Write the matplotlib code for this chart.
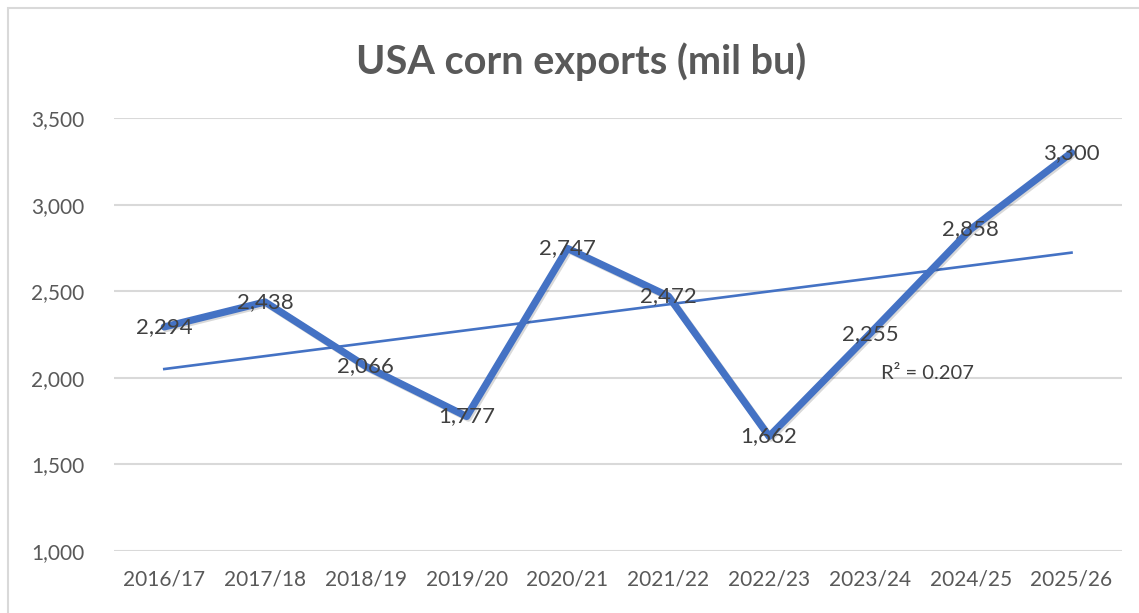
import matplotlib.pyplot as plt
import matplotlib.patheffects as pe
import numpy as np

# data
seasons = ['2016/17', '2017/18', '2018/19', '2019/20', '2020/21',
           '2021/22', '2022/23', '2023/24', '2024/25', '2025/26']
exports = [2294, 2438, 2066, 1777, 2747, 2472, 1662, 2255, 2858, 3300]
y_ticks = [1000, 1500, 2000, 2500, 3000, 3500]

plt.rcParams['font.family'] = ['Lato', 'DejaVu Sans']

fig = plt.figure(figsize=(11.39, 6.13), dpi=100)
ax = fig.add_axes([0.100, 0.101, 0.885, 0.7065])

x = np.arange(len(seasons))
azul = '#4472C4'
gris = '#404040'

# trend line (linear fit)
m, b = np.polyfit(x, exports, 1)
ax.plot(x, m * x + b, color=azul, lw=1.9, zorder=3)

# serie principal
ax.plot(x, exports, color=azul, lw=5.2, solid_capstyle='round', zorder=4,
        path_effects=[pe.SimpleLineShadow(offset=(1.2, -1.2), alpha=0.15),
                      pe.Normal()])

for xi, v in zip(x, exports):
    ax.text(xi, v, f'{v:,}', ha='center', va='center', fontsize=16,
            color=gris, zorder=5)

# R squared
pred = m * x + b
resid = np.array(exports) - pred
r2 = 1 - (resid ** 2).sum() / ((np.array(exports) - np.mean(exports)) ** 2).sum()
ax.text(7.57, 2028, f'R² = {r2:.3f}', ha='center', va='center',
        fontsize=14.5, color=gris, zorder=5)

ax.set_xlim(-0.5, len(seasons) - 0.5)
ax.set_ylim(1000, 3500)
ax.set_yticks(y_ticks)
ax.set_yticklabels([f'{t:,}' for t in y_ticks])
ax.set_xticks(x)
ax.set_xticklabels(seasons)
ax.tick_params(length=0, labelsize=15, labelcolor='#595959')
ax.tick_params(axis='y', pad=21)
ax.tick_params(axis='x', pad=13)
ax.grid(axis='y', color='#D9D9D9', lw=1.5)
ax.set_axisbelow(True)
for s in ax.spines.values():
    s.set_visible(False)

fig.text(0.51, 0.9, 'USA corn exports (mil bu)', ha='center', va='center',
         fontsize=28.5, fontweight='bold', color='#595959')

# marco del grafico
fig.patches.append(plt.Rectangle((0.007, -0.01), 1.2, 0.997, transform=fig.transFigure,
                                 fill=False, edgecolor='#D9D9D9', lw=1.5))

fig.savefig('out.png', dpi=100)
